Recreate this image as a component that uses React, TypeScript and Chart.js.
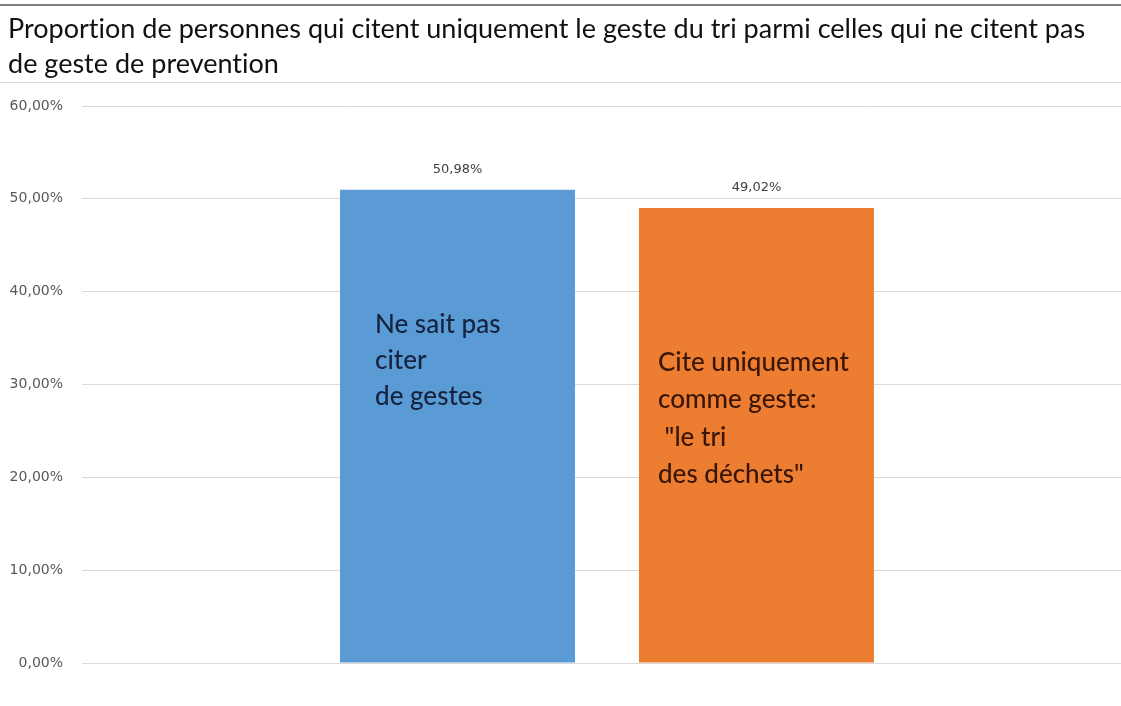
import React, { useEffect, useRef } from "react";
import { Chart, registerables } from "chart.js";

Chart.register(...registerables);

const categories = [""];
const seriesNames = ["Ne sait pas citer de gestes", "Cite uniquement comme geste : le tri des déchets"];
const seriesValues = [50.98, 49.02];
const seriesColors = ["#5B9BD5", "#ED7D31"];
const barTexts = [
  ["Ne sait pas", "citer", "de gestes"],
  ["Cite uniquement", "comme geste:", " \"le tri", "des déchets\""],
];
const titleLines = [
  "Proportion de personnes qui citent uniquement le geste du tri parmi celles qui ne citent pas",
  "de geste de prevention",
];
const yTicks = { min: 0, max: 60, step: 10 };

const FONT = "Lato, 'Open Sans', sans-serif";
const TICK_FONT = "'DejaVu Sans', sans-serif";

const fmt = (v: number) => v.toFixed(2).replace(".", ",") + "%";

const decorPlugin = {
  id: "decor",
  beforeDraw(chart: any) {
    const { ctx, width } = chart;
    ctx.save();
    ctx.fillStyle = "#ffffff";
    ctx.fillRect(0, 0, width, chart.height);
    ctx.fillStyle = "#7f7f7f";
    ctx.fillRect(0, 4, width, 2);
    ctx.fillStyle = "#d9d9d9";
    ctx.fillRect(0, 82, width, 1);
    ctx.fillStyle = "#111111";
    ctx.font = `27px ${FONT}`;
    try { (ctx as any).letterSpacing = "0.01px"; } catch (e) {}
    ctx.textBaseline = "alphabetic";
    ctx.textAlign = "left";
    titleLines.forEach((l, i) => ctx.fillText(l, 8, 38 + i * 35));
    ctx.restore();
  },
};

const labelPlugin = {
  id: "barLabels",
  afterDatasetsDraw(chart: any, _args: any, opts: any) {
    const { ctx } = chart;
    const yScale = chart.scales.y;
    ctx.save();
    chart.data.datasets.forEach((ds: any, di: number) => {
      const meta = chart.getDatasetMeta(di);
      meta.data.forEach((bar: any, i: number) => {
        const v = ds.data[i];
        ctx.fillStyle = "#404040";
        ctx.font = `13px ${TICK_FONT}`;
        ctx.textAlign = "center";
        ctx.textBaseline = "middle";
        ctx.fillText(fmt(v), bar.x, bar.y - 20);
        const cfg = opts.inner[di];
        const lines = barTexts[di];
        const left = bar.x - bar.width / 2;
        ctx.fillStyle = cfg.color;
        ctx.font = `${cfg.weight} 26px ${FONT}`;
        try { (ctx as any).letterSpacing = "0.01px"; } catch (e) {}
        ctx.textAlign = "left";
        const y0 = yScale.getPixelForValue(cfg.anchor);
        lines.forEach((l: string, li: number) => {
          ctx.fillText(l, left + cfg.dx, y0 + li * cfg.lh);
        });
        try { (ctx as any).letterSpacing = "0px"; } catch (e) {}
      });
    });
    ctx.restore();
  },
};

export default function App() {
  const ref = useRef<HTMLCanvasElement>(null);
  useEffect(() => {
    document.body.style.margin = "0";
    document.body.style.overflow = "hidden";
    const chart = new Chart(ref.current!, {
      type: "bar",
      data: {
        labels: categories,
        datasets: seriesValues.map((v, i) => ({
          label: seriesNames[i],
          data: [v],
          backgroundColor: seriesColors[i],
          categoryPercentage: 0.5695,
          barPercentage: 0.786,
        })),
      },
      options: {
        responsive: false,
        animation: false,
        layout: { padding: { top: 106, bottom: 43, left: 0, right: 0 } },
        plugins: {
          legend: { display: false },
          title: { display: false },
          tooltip: { enabled: false },
          barLabels: {
            inner: [
              { dx: 35, anchor: 36.4, lh: 36, color: "#15233f", weight: "500" },
              { dx: 19, anchor: 32.4, lh: 37.5, color: "#3a1606", weight: "500" },
            ],
          },
        } as any,
        scales: {
          x: { display: false },
          y: {
            min: yTicks.min,
            max: yTicks.max,
            ticks: {
              stepSize: yTicks.step,
              padding: 19,
              color: "#595959",
              font: { family: TICK_FONT, size: 14 },
              callback: (v: any) => fmt(Number(v)),
            },
            grid: { color: "#d9d9d9", drawTicks: false },
            border: { display: false },
            afterFit: (s: any) => {
              s.width = 82;
            },
          },
        },
      },
      plugins: [decorPlugin, labelPlugin],
    });
    return () => chart.destroy();
  }, []);
  return (
    <div style={{ width: 1121, height: 706, overflow: "hidden" }}>
      <canvas ref={ref} width={1132} height={706} style={{ display: "block" }} />
    </div>
  );
}
